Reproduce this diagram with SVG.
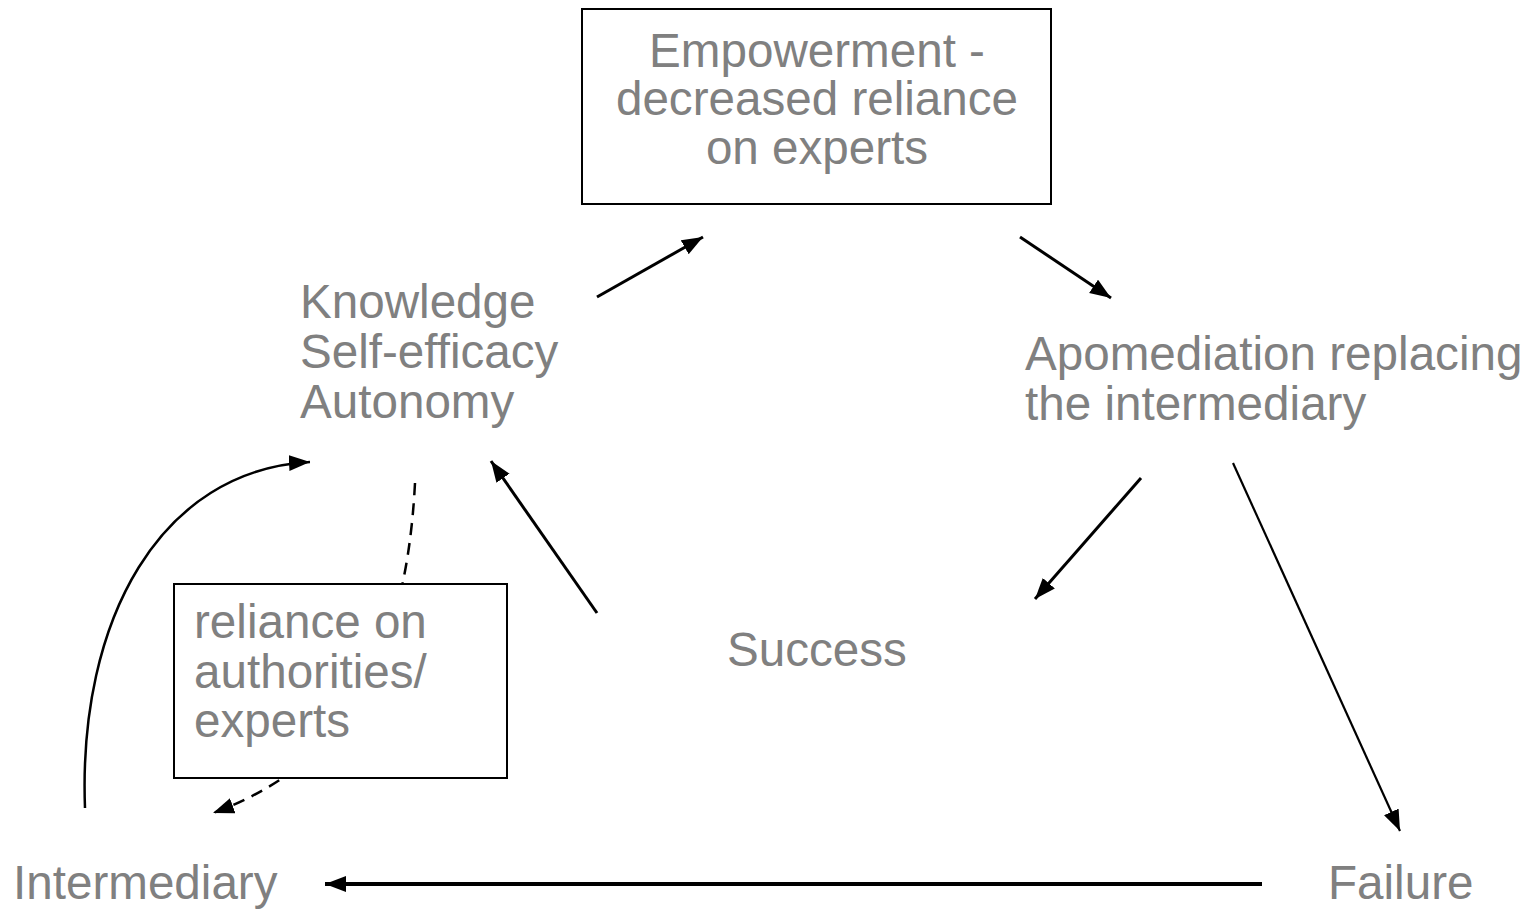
<svg xmlns="http://www.w3.org/2000/svg" width="1533" height="910" viewBox="0 0 1533 910">
<style>
text{font-family:"Liberation Sans",Arial,sans-serif;font-size:47.6px;fill:#808080}
.box{fill:#fff;stroke:#000;stroke-width:2}
.c{fill:none;stroke:#000}
</style>
<defs>
<marker id="ah" markerUnits="userSpaceOnUse" markerWidth="24" markerHeight="18" refX="21" refY="8" orient="auto"><path d="M0,0 L21,8 L0,16 z" fill="#000"/></marker>
</defs>
<rect width="1533" height="910" fill="#fff"/>
<g id="connectors">
<path class="c" d="M597,297 L703,237" stroke-width="3" marker-end="url(#ah)"/>
<path class="c" d="M1020,237 L1111,298" stroke-width="3" marker-end="url(#ah)"/>
<path class="c" d="M1141,478 L1035,599" stroke-width="3" marker-end="url(#ah)"/>
<path class="c" d="M1233,463 L1400,831" stroke-width="2.2" marker-end="url(#ah)"/>
<path class="c" d="M1262,884 L325,884" stroke-width="4" marker-end="url(#ah)"/>
<path class="c" d="M597,613 L491,461" stroke-width="3" marker-end="url(#ah)"/>
<path class="c" d="M85,808 C78,620 160,470 310,462" stroke-width="2.5" marker-end="url(#ah)"/>
<path class="c" d="M415,483 C405,680 330,770 213,813" stroke-width="2.5" stroke-dasharray="12,8" marker-end="url(#ah)"/>
</g>
<g id="empowerment">
<rect class="box" x="582" y="9" width="469" height="195"/>
<text x="817" y="67" text-anchor="middle">Empowerment -</text>
<text x="817" y="115" text-anchor="middle">decreased reliance</text>
<text x="817" y="164" text-anchor="middle">on experts</text>
</g>
<g id="knowledge">
<text x="300" y="318">Knowledge</text>
<text x="300" y="368">Self-efficacy</text>
<text x="300" y="418">Autonomy</text>
</g>
<g id="apomediation">
<text x="1025" y="370">Apomediation replacing</text>
<text x="1025" y="420">the intermediary</text>
</g>
<g id="success">
<text x="727" y="666">Success</text>
</g>
<g id="reliance">
<rect class="box" x="174" y="584" width="333" height="194"/>
<text x="194" y="638">reliance on</text>
<text x="194" y="688">authorities/</text>
<text x="194" y="737">experts</text>
</g>
<g id="intermediary">
<text x="13" y="899">Intermediary</text>
</g>
<g id="failure">
<text x="1328" y="899">Failure</text>
</g>
</svg>
